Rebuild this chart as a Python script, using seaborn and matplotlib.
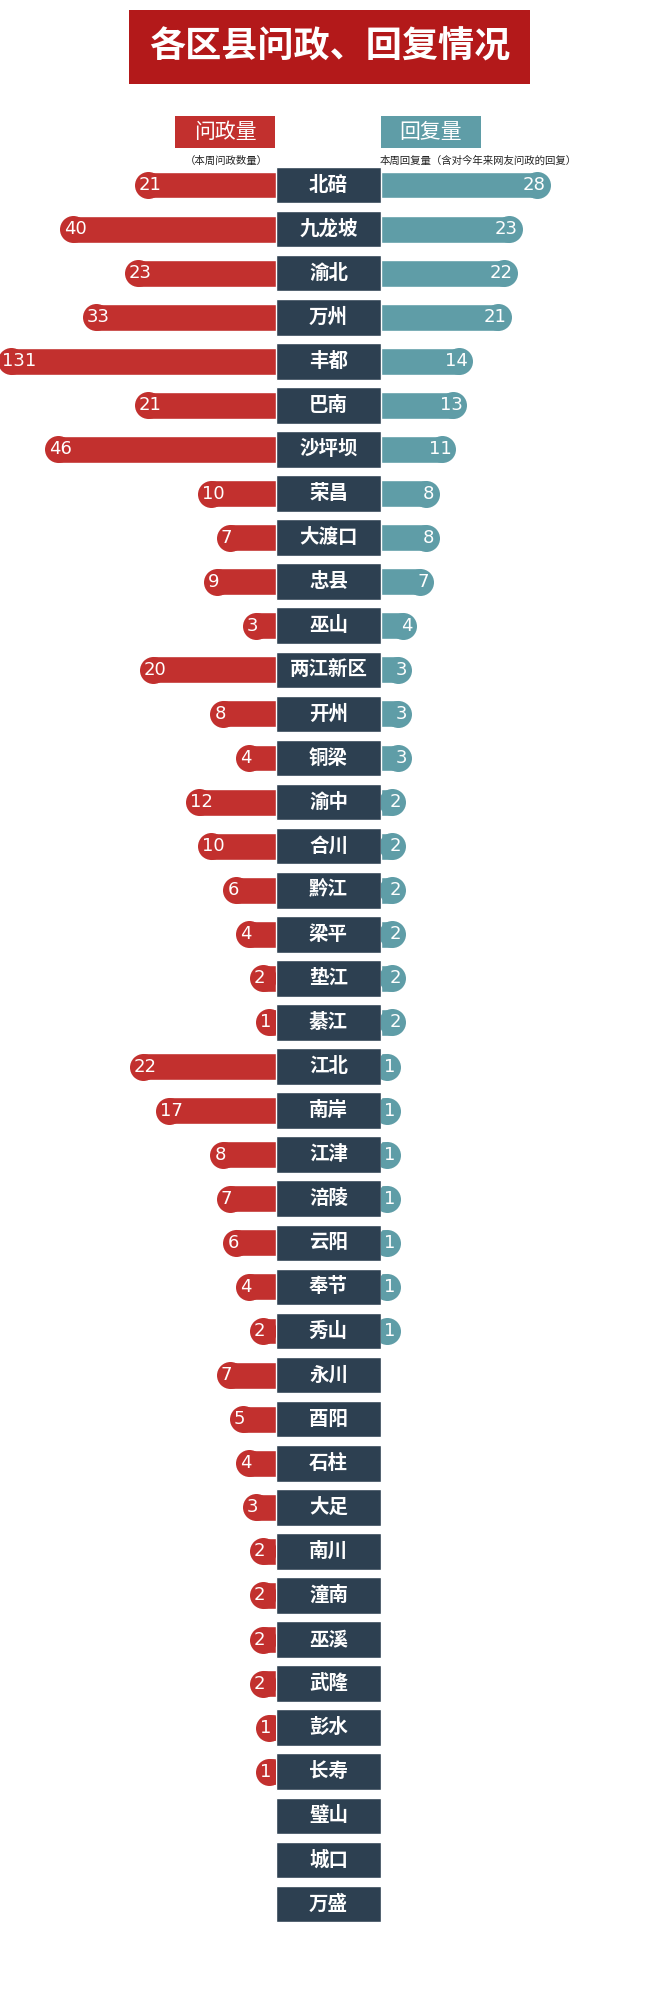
import numpy as np
import pandas as pd
import seaborn as sns
import matplotlib.pyplot as plt
from matplotlib.patches import Rectangle

districts = ["北碚", "九龙坡", "渝北", "万州", "丰都", "巴南", "沙坪坝", "荣昌", "大渡口", "忠县",
             "巫山", "两江新区", "开州", "铜梁", "渝中", "合川", "黔江", "梁平", "垫江", "綦江",
             "江北", "南岸", "江津", "涪陵", "云阳", "奉节", "秀山", "永川", "酉阳", "石柱",
             "大足", "南川", "潼南", "巫溪", "武隆", "彭水", "长寿", "璧山", "城口", "万盛"]
asks = [21, 40, 23, 33, 131, 21, 46, 10, 7, 9, 3, 20, 8, 4, 12, 10, 6, 4, 2, 1,
        22, 17, 8, 7, 6, 4, 2, 7, 5, 4, 3, 2, 2, 2, 2, 1, 1, 0, 0, 0]
replies = [28, 23, 22, 21, 14, 13, 11, 8, 8, 7, 4, 3, 3, 3, 2, 2, 2, 2, 2, 2,
           1, 1, 1, 1, 1, 1, 1, 0, 0, 0, 0, 0, 0, 0, 0, 0, 0, 0, 0, 0]

df = pd.DataFrame({"区县": districts, "问政量": asks, "回复量": replies, "one": 1})
n = len(df)

RED = "#c2302e"
TEAL = "#5f9da7"
DARK = "#2d4051"
TITLE_RED = "#b3191a"

sns.set_style("white")
plt.rcParams["font.family"] = ["Noto Sans CJK SC", "DejaVu Sans"]

W, H = 651, 2000
fig = plt.figure(figsize=(W / 100, H / 100), dpi=100)

top_px, bot_px = 163, 1926


def px_axes(x0, x1):
    return fig.add_axes([x0 / W, 1 - bot_px / H, (x1 - x0) / W, (bot_px - top_px) / H])


# compressed scale for the left side (the big values are squeezed in the reference)
A = 40.0
fwd = lambda x: A * np.tanh(np.asarray(x, dtype=float) / A)
inv = lambda y: A * np.arctanh(np.clip(np.asarray(y, dtype=float) / A, -0.999999, 0.999999))

ax_l = px_axes(10, 276)
ax_c = px_axes(276, 381)
ax_r = px_axes(381, 651)

bar_w = 0.61
cap_s = (27 * 0.72) ** 2

# left: 问政量
sns.barplot(data=df, y="区县", x="问政量", orient="h", color=RED, width=bar_w,
            saturation=1, ax=ax_l, zorder=1)
ax_l.set_xscale("function", functions=(fwd, inv))
ax_l.set_xlim(300, 0)
m = df["问政量"] > 0
ax_l.scatter(df.loc[m, "问政量"], np.arange(n)[m], s=cap_s, color=RED, lw=0, zorder=2, clip_on=False)
for i, v in enumerate(asks):
    if v > 0:
        ax_l.annotate(str(v), (v, i), xytext=(-9, 0), textcoords="offset pixels",
                      ha="left", va="center", color="white", fontsize=13, zorder=3,
                      family=["DejaVu Sans"], annotation_clip=False)

# right: 回复量
sns.barplot(data=df, y="区县", x="回复量", orient="h", color=TEAL, width=bar_w,
            saturation=1, ax=ax_r, zorder=1)
ax_r.set_xlim(0, 270 / 5.57)
m = df["回复量"] > 0
ax_r.scatter(df.loc[m, "回复量"], np.arange(n)[m], s=cap_s, color=TEAL, lw=0, zorder=2, clip_on=False)
for i, v in enumerate(replies):
    if v > 0:
        ax_r.annotate(str(v), (v, i), xytext=(9, 0), textcoords="offset pixels",
                      ha="right", va="center", color="white", fontsize=13, zorder=3,
                      family=["DejaVu Sans"], annotation_clip=False)

# center: district names
sns.barplot(data=df, y="区县", x="one", orient="h", color=DARK, width=0.83,
            saturation=1, ax=ax_c)
ax_c.set_xlim(0, 1)
for i, name in enumerate(districts):
    ax_c.text(0.5, i, name, ha="center", va="center", color="white",
              fontsize=14, fontweight="bold")

for ax in (ax_l, ax_c, ax_r):
    ax.set_ylim(n - 0.5, -0.5)
    ax.set_xlabel("")
    ax.set_ylabel("")
    ax.set_xticks([])
    ax.set_yticks([])
    ax.patch.set_alpha(0)
    sns.despine(ax=ax, left=True, bottom=True)
ax_c.set_zorder(5)

# title and legend
def box(x0, y0, x1, y1, color):
    fig.add_artist(Rectangle((x0 / W, 1 - y1 / H), (x1 - x0) / W, (y1 - y0) / H,
                             transform=fig.transFigure, color=color, lw=0))

box(129, 10, 530, 84, TITLE_RED)
fig.text(329.5 / W, 1 - 47 / H, "各区县问政、回复情况", ha="center", va="center",
         color="white", fontsize=26, fontweight="bold")
box(175, 116, 275, 148, RED)
fig.text(225 / W, 1 - 132 / H, "问政量", ha="center", va="center", color="white", fontsize=15)
box(381, 116, 481, 148, TEAL)
fig.text(431 / W, 1 - 132 / H, "回复量", ha="center", va="center", color="white", fontsize=15)
fig.text(226 / W, 1 - 161 / H, "（本周问政数量）", ha="center", va="center", color="#222222", fontsize=7.5)
fig.text(380 / W, 1 - 161 / H, "本周回复量（含对今年来网友问政的回复）", ha="left", va="center",
         color="#222222", fontsize=7.5)

fig.savefig("out.png", dpi=100, facecolor="white")
